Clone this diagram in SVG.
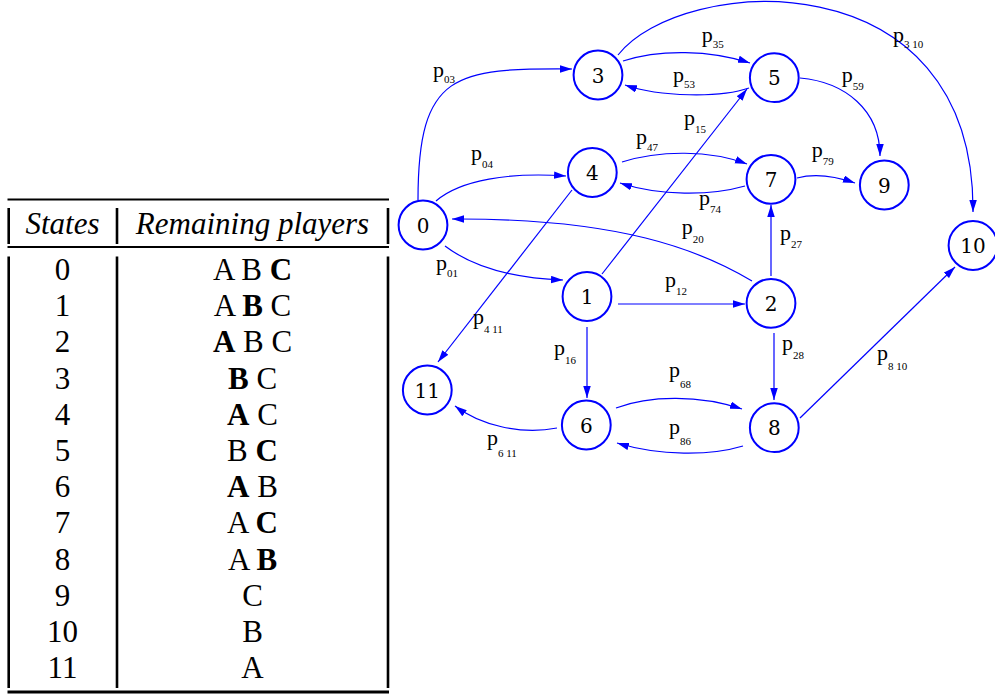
<svg xmlns="http://www.w3.org/2000/svg" width="995" height="696" viewBox="0 0 995 696">
<style>
.rule{stroke:#000;stroke-width:2;fill:none}
.vbar{stroke:#000;stroke-width:2.6;fill:none}
.th{font-family:"Liberation Serif","Times New Roman",Times,serif;font-style:italic;font-size:31px;fill:#000;text-anchor:middle}
.td{font-family:"Liberation Serif","Times New Roman",Times,serif;font-size:31px;fill:#000;text-anchor:middle}
.b{font-weight:bold}
.node circle{fill:#fff;stroke:#0000ff;stroke-width:2}
.node text{font-family:"DejaVu Serif",serif;font-size:20px;fill:#000;text-anchor:middle}
.edge{fill:none;stroke:#0000ff;stroke-width:1.2;marker-end:url(#ah)}
.lab{font-family:"Liberation Serif","Times New Roman",Times,serif;font-size:22px;fill:#000}
.sb{font-size:11px}
</style>
<defs>
<marker id="ah" markerUnits="userSpaceOnUse" markerWidth="12" markerHeight="8" refX="12" refY="3.75" orient="auto">
<path d="M0,0 L12,3.75 L0,7.5 Z" fill="#0000ff"/>
</marker>
</defs>
<rect width="995" height="696" fill="#fff"/>
<g id="table">
<line class="rule" x1="7.5" y1="199.5" x2="389" y2="199.5"/>
<line class="vbar" x1="8.7" y1="208" x2="8.7" y2="244"/>
<line class="vbar" x1="117" y1="208" x2="117" y2="244"/>
<line class="vbar" x1="388" y1="208" x2="388" y2="244"/>
<text class="th" x="62.5" y="234">States</text>
<text class="th" x="252.5" y="234">Remaining players</text>
<line class="rule" x1="7.5" y1="247" x2="389" y2="247"/>
<line class="vbar" x1="8.7" y1="256.5" x2="8.7" y2="688"/>
<line class="vbar" x1="117" y1="256.5" x2="117" y2="688"/>
<line class="vbar" x1="388" y1="256.5" x2="388" y2="688"/>
<line class="rule" x1="7.5" y1="692" x2="389" y2="692" style="stroke-width:3"/>
<text class="td" x="62.5" y="280">0</text><text class="td" x="252.5" y="280">A B <tspan class="b">C</tspan></text>
<text class="td" x="62.5" y="316.2">1</text><text class="td" x="252.5" y="316.2">A <tspan class="b">B</tspan> C</text>
<text class="td" x="62.5" y="352.4">2</text><text class="td" x="252.5" y="352.4"><tspan class="b">A</tspan> B C</text>
<text class="td" x="62.5" y="388.6">3</text><text class="td" x="252.5" y="388.6"><tspan class="b">B</tspan> C</text>
<text class="td" x="62.5" y="424.8">4</text><text class="td" x="252.5" y="424.8"><tspan class="b">A</tspan> C</text>
<text class="td" x="62.5" y="461">5</text><text class="td" x="252.5" y="461">B <tspan class="b">C</tspan></text>
<text class="td" x="62.5" y="497.2">6</text><text class="td" x="252.5" y="497.2"><tspan class="b">A</tspan> B</text>
<text class="td" x="62.5" y="533.4">7</text><text class="td" x="252.5" y="533.4">A <tspan class="b">C</tspan></text>
<text class="td" x="62.5" y="569.6">8</text><text class="td" x="252.5" y="569.6">A <tspan class="b">B</tspan></text>
<text class="td" x="62.5" y="605.8">9</text><text class="td" x="252.5" y="605.8">C</text>
<text class="td" x="62.5" y="642">10</text><text class="td" x="252.5" y="642">B</text>
<text class="td" x="62.5" y="678.2">11</text><text class="td" x="252.5" y="678.2">A</text>
</g>
<g id="connectors">
<path class="edge" d="M418,200 C418,72 455,68 572,69"/>
<path class="edge" d="M436,201 C460,180 510,172 566,176"/>
<path class="edge" d="M445,246 C470,265 510,278 563,280"/>
<path class="edge" d="M752,281 C700,250 620,218 452,219"/>
<path class="edge" d="M623,61 C660,49 710,50 750,63"/>
<path class="edge" d="M749,88 C720,98 660,97 625,85"/>
<path class="edge" d="M618,55 C680,-25 975,-45 973,212"/>
<path class="edge" d="M800,78 C845,82 880,110 880,156"/>
<path class="edge" d="M622,162 C660,150 710,150 747,164"/>
<path class="edge" d="M745,186 C710,196 660,196 620,183"/>
<path class="edge" d="M602,274 L747,89"/>
<path class="edge" d="M572,190 L438,362"/>
<path class="edge" d="M797,178 C815,173 835,176 855,183"/>
<path class="edge" d="M771,276 L771,205"/>
<path class="edge" d="M618,304 L745,304"/>
<path class="edge" d="M587,327 L587,398"/>
<path class="edge" d="M774,333 L774,400"/>
<path class="edge" d="M616,408 C650,395 700,395 742,409"/>
<path class="edge" d="M743,446 C710,456 660,456 617,443"/>
<path class="edge" d="M557,428 C520,435 480,425 455,406"/>
<path class="edge" d="M800,418 L955,267"/>
</g>
<g id="edge-labels">
<text class="lab"><tspan x="433" y="77">p</tspan><tspan class="sb" x="444" y="83.3">03</tspan></text>
<text class="lab"><tspan x="471" y="160">p</tspan><tspan class="sb" x="482" y="167.7">04</tspan></text>
<text class="lab"><tspan x="436" y="270">p</tspan><tspan class="sb" x="447" y="277">01</tspan></text>
<text class="lab"><tspan x="701.7" y="42">p</tspan><tspan class="sb" x="712.7" y="48.3">35</tspan></text>
<text class="lab"><tspan x="673" y="82">p</tspan><tspan class="sb" x="684" y="88.3">53</tspan></text>
<text class="lab"><tspan x="893" y="42">p</tspan><tspan class="sb" x="904" y="48.3">3 10</tspan></text>
<text class="lab"><tspan x="841.7" y="82">p</tspan><tspan class="sb" x="852.7" y="90">59</tspan></text>
<text class="lab"><tspan x="684" y="125">p</tspan><tspan class="sb" x="695" y="132.7">15</tspan></text>
<text class="lab"><tspan x="636" y="143.5">p</tspan><tspan class="sb" x="647" y="150.7">47</tspan></text>
<text class="lab"><tspan x="699" y="205">p</tspan><tspan class="sb" x="710" y="213.3">74</tspan></text>
<text class="lab"><tspan x="681.7" y="233.5">p</tspan><tspan class="sb" x="692.7" y="243.3">20</tspan></text>
<text class="lab"><tspan x="811.7" y="157">p</tspan><tspan class="sb" x="822.7" y="165">79</tspan></text>
<text class="lab"><tspan x="780" y="240">p</tspan><tspan class="sb" x="791" y="248.3">27</tspan></text>
<text class="lab"><tspan x="665" y="287">p</tspan><tspan class="sb" x="676" y="295">12</tspan></text>
<text class="lab"><tspan x="473" y="323.5">p</tspan><tspan class="sb" x="484" y="333.3">4 11</tspan></text>
<text class="lab"><tspan x="554" y="355">p</tspan><tspan class="sb" x="565" y="364.3">16</tspan></text>
<text class="lab"><tspan x="669" y="377">p</tspan><tspan class="sb" x="680" y="388.3">68</tspan></text>
<text class="lab"><tspan x="669" y="433.5">p</tspan><tspan class="sb" x="680" y="445">86</tspan></text>
<text class="lab"><tspan x="487" y="445">p</tspan><tspan class="sb" x="498" y="456.7">6 11</tspan></text>
<text class="lab"><tspan x="782" y="350">p</tspan><tspan class="sb" x="793" y="359.3">28</tspan></text>
<text class="lab"><tspan x="877" y="360">p</tspan><tspan class="sb" x="888" y="370">8 10</tspan></text>
</g>
<g id="n0" class="node"><circle cx="423" cy="225" r="24.4"/><text x="423" y="232.5">0</text></g>
<g id="n1" class="node"><circle cx="587" cy="296.5" r="24.4"/><text x="587" y="304">1</text></g>
<g id="n2" class="node"><circle cx="771" cy="303.3" r="24.4"/><text x="771" y="310.8">2</text></g>
<g id="n3" class="node"><circle cx="598" cy="75" r="24.4"/><text x="598" y="82.5">3</text></g>
<g id="n4" class="node"><circle cx="592.3" cy="172.5" r="24.4"/><text x="592.3" y="180">4</text></g>
<g id="n5" class="node"><circle cx="774.3" cy="77.7" r="24.4"/><text x="774.3" y="85.2">5</text></g>
<g id="n6" class="node"><circle cx="586.3" cy="425" r="24.4"/><text x="586.3" y="432.5">6</text></g>
<g id="n7" class="node"><circle cx="771" cy="179.3" r="24.4"/><text x="771" y="186.8">7</text></g>
<g id="n8" class="node"><circle cx="774.3" cy="427.7" r="24.4"/><text x="774.3" y="435.2">8</text></g>
<g id="n9" class="node"><circle cx="884.3" cy="185" r="24.4"/><text x="884.3" y="192.5">9</text></g>
<g id="n10" class="node"><circle cx="973" cy="245.5" r="24.4"/><text x="973" y="253">10</text></g>
<g id="n11" class="node"><circle cx="427.3" cy="390" r="24.4"/><text x="427.3" y="397.5">11</text></g>
</svg>
